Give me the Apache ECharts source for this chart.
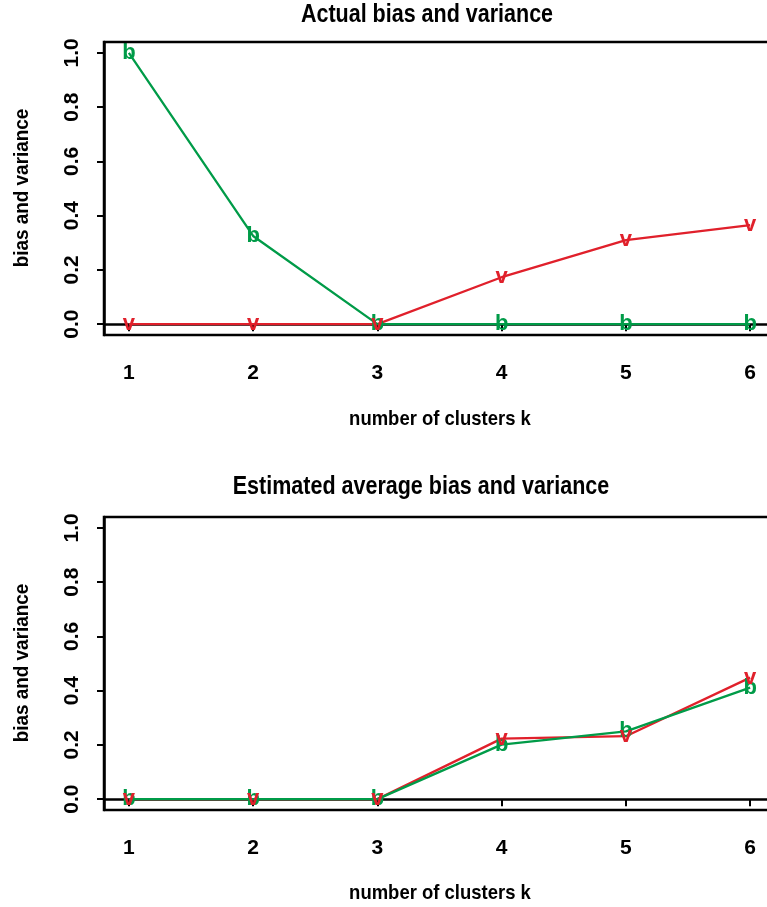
<!DOCTYPE html>
<html><head><meta charset="utf-8">
<script src="https://cdn.jsdelivr.net/npm/echarts@6/dist/echarts.min.js"></script>
<style>html,body{margin:0;padding:0;background:#fff}#c{width:767px;height:907px}</style>
</head><body><div id="c"></div>
<script>
const clustersK = [1, 2, 3, 4, 5, 6];
const actualBias = [1.0, 0.325, 0.0, 0.0, 0.0, 0.0];
const actualVariance = [0.0, 0.0, 0.0, 0.173, 0.31, 0.365];
const estBias = [0.0, 0.0, 0.0, 0.201, 0.25, 0.411];
const estVariance = [0.0, 0.0, 0.0, 0.223, 0.232, 0.448];
const yTicks = [0, 0.2, 0.4, 0.6, 0.8, 1.0];
const titles = ['Actual bias and variance', 'Estimated average bias and variance'];
const xName = 'number of clusters k';
const yName = 'bias and variance';

const GREEN = '#009b48', RED = '#e0202b';
const FONT = '"Liberation Sans", Arial, sans-serif';
const pairs = d => clustersK.map((k, i) => [k, d[i]]);

// plot region spans x 0.8..6.2 over 671px; only 663px of it lies inside the canvas
const grids = [
  {left: 104, top: 42, right: 0, height: 293},
  {left: 104, top: 517, right: 0, height: 293}
];
const xAxes = grids.map((g, i) => ({
  type: 'value', gridIndex: i, min: 0.8, max: 0.8 + 5.4 * 663 / 671,
  axisLine: {show: true, lineStyle: {color: '#000', width: 2.5}},
  axisTick: {show: true, length: 7, lineStyle: {color: '#000', width: 2}, customValues: clustersK},
  axisLabel: {customValues: clustersK, color: '#000', fontSize: 21, fontWeight: 'bold', fontFamily: FONT, margin: 28},
  splitLine: {show: false}
}));
const yAxes = grids.map((g, i) => ({
  type: 'value', gridIndex: i, min: -0.04, max: 1.04,
  axisLine: {show: true, lineStyle: {color: '#000', width: 2.5}},
  axisTick: {show: true, length: 7, lineStyle: {color: '#000', width: 2}, customValues: yTicks},
  axisLabel: {customValues: yTicks, rotate: 90, color: '#000', fontSize: 21, fontWeight: 'bold', fontFamily: FONT, margin: 21,
    formatter: v => v.toFixed(1)},
  splitLine: {show: false}
}));

function lineSeries(data, idx, color) {
  return {type: 'line', xAxisIndex: idx, yAxisIndex: idx, data: pairs(data), symbol: 'none',
    lineStyle: {color, width: 2.3}, z: 2, animation: false, silent: true};
}
function markSeries(data, idx, color, ch, z) {
  return {type: 'scatter', xAxisIndex: idx, yAxisIndex: idx, data: pairs(data), symbolSize: 0.01,
    itemStyle: {color, opacity: 1}, z,
    label: {show: true, position: [0, 0], align: 'center', verticalAlign: 'middle', formatter: ch, color,
      fontSize: 22, fontWeight: 'bold', fontFamily: FONT, textBorderWidth: 0, opacity: 1},
    emphasis: {disabled: true},
    animation: false, silent: true};
}

const graphics = [];
const titleX = [427, 421], titleY = [15, 487];
titles.forEach((t, i) => graphics.push({type: 'text', x: titleX[i], y: titleY[i], scaleX: 0.86,
  style: {text: t, fill: '#000', font: 'bold 25px ' + FONT, textAlign: 'center', textVerticalAlign: 'middle'}}));
[419, 893].forEach(y => graphics.push({type: 'text', x: 440, y, scaleX: 0.88,
  style: {text: xName, fill: '#000', font: 'bold 21px ' + FONT, textAlign: 'center', textVerticalAlign: 'middle'}}));
[188, 663].forEach(y => graphics.push({type: 'text', x: 22, y, rotation: Math.PI / 2, scaleX: 0.9,
  style: {text: yName, fill: '#000', font: 'bold 21px ' + FONT, textAlign: 'center', textVerticalAlign: 'middle'}}));
grids.forEach(g => graphics.push({type: 'rect', shape: {x: g.left, y: g.top, width: 671, height: g.height},
  style: {fill: 'none', stroke: '#000', lineWidth: 2.5}, z: 10, silent: true}));

const chart = echarts.init(document.getElementById('c'), null, {renderer: 'canvas'});
chart.setOption({
  backgroundColor: '#fff',
  animation: false,
  grid: grids,
  xAxis: xAxes,
  yAxis: yAxes,
  graphic: graphics,
  series: [
    lineSeries(actualVariance, 0, RED),
    lineSeries(actualBias, 0, GREEN),
    markSeries(actualBias, 0, GREEN, 'b', 3),
    markSeries(actualVariance, 0, RED, 'v', 4),
    lineSeries(estVariance, 1, RED),
    lineSeries(estBias, 1, GREEN),
    markSeries(estBias, 1, GREEN, 'b', 3),
    markSeries(estVariance, 1, RED, 'v', 4)
  ]
});
</script></body></html>
